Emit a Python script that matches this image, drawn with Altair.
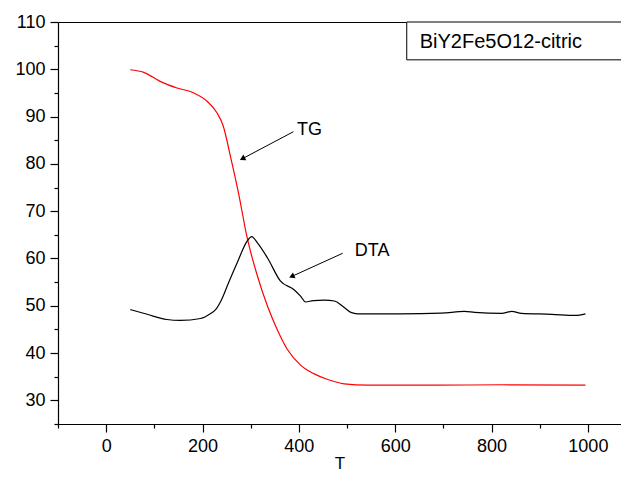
import altair as alt
import pandas as pd

# TG curve (red)
tg_T = [50, 78, 112, 147, 182, 210, 230, 243, 258, 276, 292, 314, 335, 355, 376, 404, 432, 460, 494, 543, 682, 821, 995]
tg_v = [99.9, 99.35, 97.45, 96.05, 95.0, 93.2, 90.8, 88.0, 81.6, 73.2, 64.7, 56.3, 49.9, 45.0, 40.8, 37.4, 35.6, 34.4, 33.5, 33.2, 33.2, 33.3, 33.2]

# DTA curve (black)
dta_T = [50, 85, 126, 154, 196, 216, 228, 240, 253, 272, 293, 302, 314, 335, 362, 390, 404, 414, 430, 453, 474, 491, 508, 522, 612, 696, 744, 765, 821, 842, 862, 925, 974, 995]
dta_v = [49.2, 48.2, 47.1, 46.9, 47.3, 48.3, 49.3, 51.4, 54.6, 59.1, 63.7, 64.6, 63.3, 60.1, 55.2, 53.4, 52.0, 50.8, 51.1, 51.2, 51.0, 49.9, 48.6, 48.3, 48.3, 48.45, 48.8, 48.6, 48.4, 48.8, 48.4, 48.2, 47.95, 48.3]

x_major = [0, 200, 400, 600, 800, 1000]
x_minor = [-100, 100, 300, 500, 700, 900, 1100]
y_major = [30, 40, 50, 60, 70, 80, 90, 100, 110]
y_minor = [25, 35, 45, 55, 65, 75, 85, 95, 105]

# annotations
ann_labels = ["TG", "DTA"]
ann_x = [396, 516]
ann_y = [87.2, 61.5]
arr_x = [388.7, 491.0]
arr_y = [86.8, 61.1]
arr_x2 = [282.8, 385.2]
arr_y2 = [81.1, 56.2]
arr_angle = [152, 156]

legend_text = "BiY2Fe5O12-citric"

FONT = "Liberation Sans"
xs = alt.Scale(domain=[-100, 1068.8], nice=False, zero=False)
ys = alt.Scale(domain=[25, 110], nice=False, zero=False)

tg_df = pd.DataFrame({"T": tg_T, "v": tg_v})
dta_df = pd.DataFrame({"T": dta_T, "v": dta_v})
arr_df = pd.DataFrame({"x": arr_x, "y": arr_y, "x2": arr_x2, "y2": arr_y2, "angle": arr_angle})
lab_df = pd.DataFrame({"x": ann_x, "y": ann_y, "t": ann_labels})

tg_line = alt.Chart(tg_df).mark_line(color="#ff0000", strokeWidth=1.2, interpolate="monotone").encode(
    x=alt.X("T:Q", scale=xs, title="T",
            axis=alt.Axis(orient="bottom", values=x_major, format="d", tickSize=8, grid=False, labelPadding=5,
                          titlePadding=0, titleFontWeight="normal", titleFontSize=17, titleFont=FONT)),
    y=alt.Y("v:Q", scale=ys, title=None,
            axis=alt.Axis(orient="left", values=y_major, format="d", tickSize=8, grid=False, labelPadding=5)),
)

dta_line = alt.Chart(dta_df).mark_line(color="black", strokeWidth=1.2, interpolate="monotone").encode(
    x=alt.X("T:Q", scale=xs, title=None,
            axis=alt.Axis(orient="bottom", values=x_minor, tickSize=4, labels=False, domain=False, grid=False)),
    y=alt.Y("v:Q", scale=ys, title=None,
            axis=alt.Axis(orient="left", values=y_minor, tickSize=4, labels=False, domain=False, grid=False)),
)

arrows = alt.Chart(arr_df).mark_rule(color="black", strokeWidth=1).encode(
    x=alt.X("x:Q", scale=xs, title=None,
            axis=alt.Axis(orient="top", ticks=False, labels=False, domain=True, grid=False)),
    x2="x2:Q",
    y=alt.Y("y:Q", scale=ys, axis=None),
    y2="y2:Q",
)

heads = alt.Chart(arr_df).mark_point(shape="triangle-right", filled=True, color="black", size=40, opacity=1).encode(
    x=alt.X("x2:Q", scale=xs, axis=None),
    y=alt.Y("y2:Q", scale=ys, axis=None),
    angle=alt.Angle("angle:Q", scale=None),
)

labels = alt.Chart(lab_df).mark_text(align="left", baseline="middle", font=FONT, fontSize=18, color="black").encode(
    x=alt.X("x:Q", scale=xs, axis=None),
    y=alt.Y("y:Q", scale=ys, axis=None),
    text="t:N",
)

legend_box = alt.Chart(pd.DataFrame({"a": [0]})).mark_rect(fill="white", stroke="black", strokeWidth=1).encode(
    x=alt.datum(624, scale=xs, axis=None),
    x2=alt.datum(1150),
    y=alt.datum(110, scale=ys, axis=None),
    y2=alt.datum(102.0),
)

legend_txt = alt.Chart(pd.DataFrame({"t": [legend_text]})).mark_text(
    align="left", baseline="alphabetic", font=FONT, fontSize=20, color="black").encode(
    x=alt.datum(651, scale=xs, axis=None),
    y=alt.datum(104.6, scale=ys, axis=None),
    text="t:N",
)

chart = alt.layer(tg_line, dta_line, arrows, heads, labels, legend_box, legend_txt).resolve_axis(
    x="independent", y="independent"
).properties(
    width=563, height=402,
    autosize=alt.AutoSizeParams(type="none"),
    padding={"left": 50, "top": 14, "right": 0, "bottom": 50},
).configure_view(strokeWidth=0).configure_axis(
    domainColor="black", tickColor="black", labelColor="black", titleColor="black",
    labelFont=FONT, labelFontSize=18, titleFont=FONT, domainWidth=1.2, tickWidth=1.2,
)

chart.save("out.html", embed_options={"renderer": "svg", "actions": False})
